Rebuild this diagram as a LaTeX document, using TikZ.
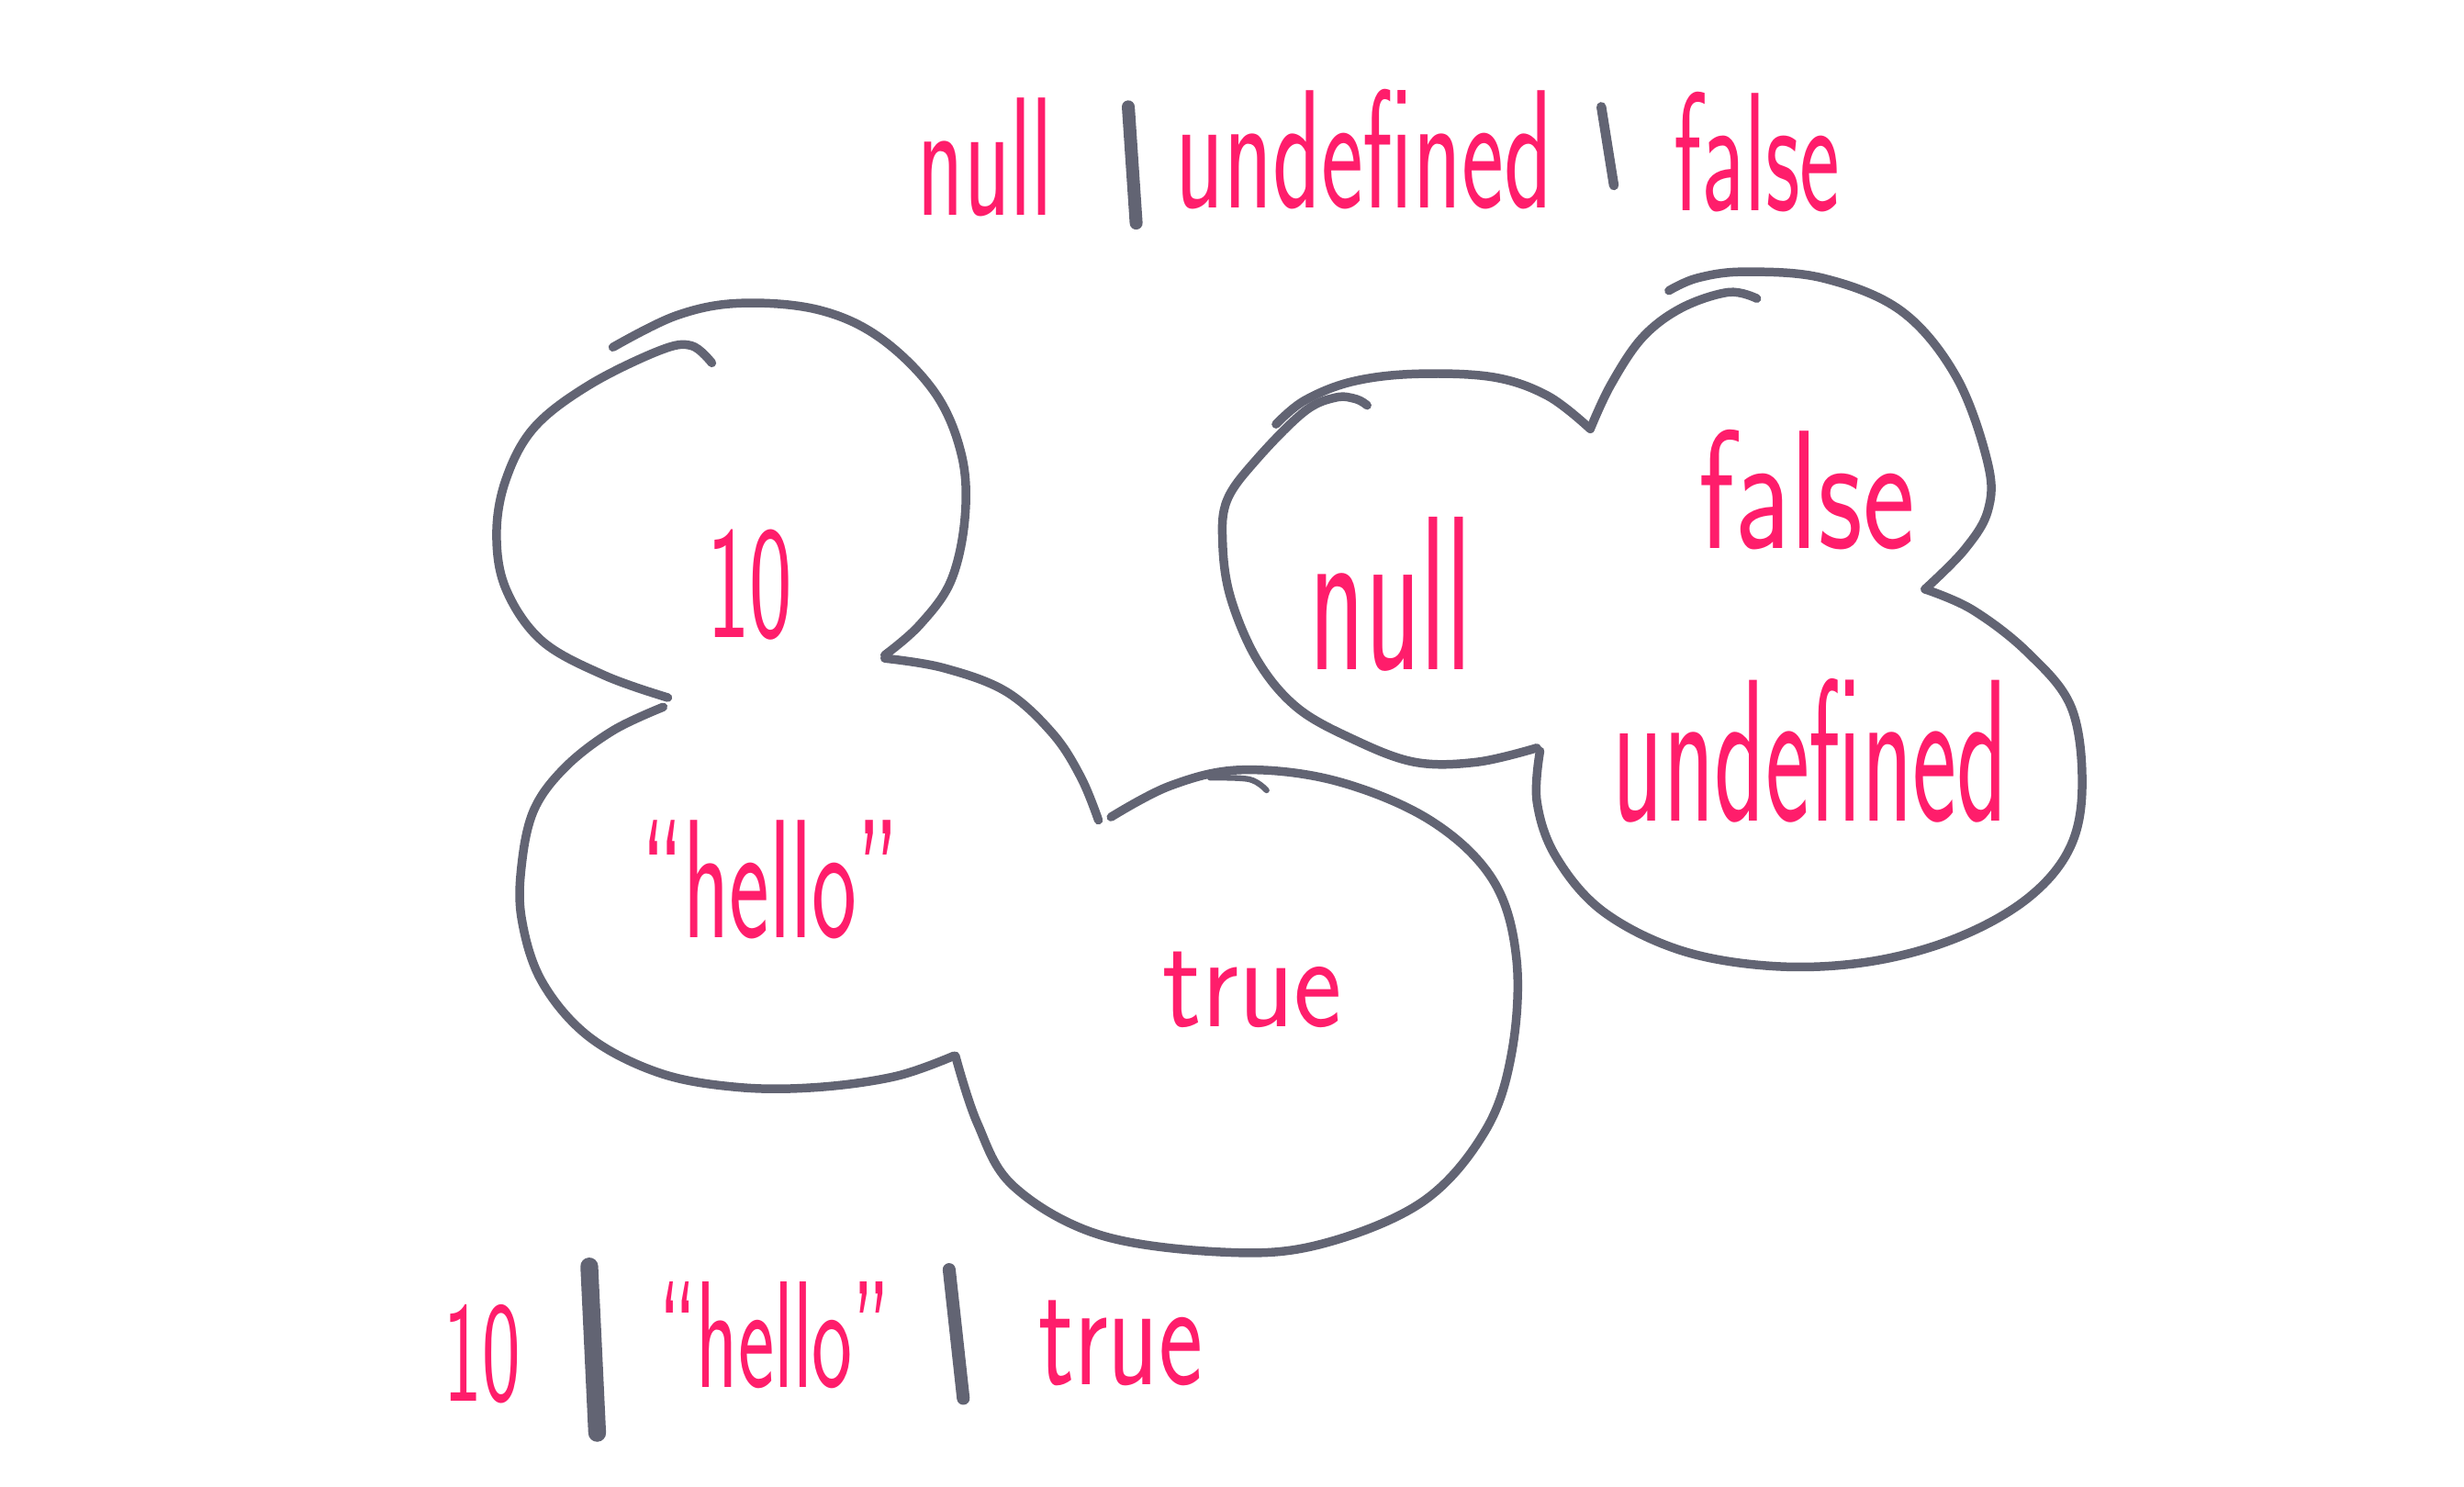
\documentclass[tikz,border=0pt]{standalone}
\usepackage{amsmath, amsfonts, tikz}
\definecolor{pinkA}{RGB}{255, 29, 107}
\definecolor{greyA}{RGB}{98, 100, 115}
\tikzset{
  cloud/.style={draw=greyA, line width=2.7pt, line cap=round, line join=round},
  hook/.style={draw=greyA, line width=1.8pt, line cap=round},
  bar/.style={draw=greyA, line width=4pt, line cap=round},
  word/.style={text=pinkA, inner sep=0pt, font=\sffamily\fontsize{40}{40}\selectfont, xscale=0.74, yscale=1.31}
}

\begin{document}
\begin{tikzpicture}[x=0.017117cm, y=-0.017117cm]
  \useasboundingbox (0,0) rectangle (1568,946);

  % top line
  \node[word] (tnull) at (627,100) {null};
  \node[word, xscale=1.05] (tundef) at (868,95) {undefined};
  \node[word] (tfalse) at (1118,97) {false};
  \path[bar] (718,68) -- (723,142);
  \path[bar, line width=3pt] (1019,68) -- (1027,118);

  % left cloud
  \path[cloud] plot[smooth, tension=0.6] coordinates {(390,221) (430,201) (470,193) (520,197) (560,215) (595,250) (612,290) (614,330) (605,370) (585,398) (563,417)};
  \path[cloud] plot[smooth, tension=0.6] coordinates {(563,419) (600,425) (640,440) (670,467) (688,495) (699,522)};
  \path[cloud] plot[smooth, tension=0.6] coordinates {(707,520) (745,500) (790,490) (850,497) (910,522) (950,560) (965,610) (962,670) (945,720) (905,765) (840,792) (780,797) (700,786) (645,755) (622,715) (608,672)};
  \path[hook] plot[smooth, tension=0.6] coordinates {(770,495) (795,496) (806,503)};
  \path[cloud] plot[smooth, tension=0.6] coordinates {(607,672) (570,685) (520,692) (470,692) (420,683) (375,660) (345,625) (332,585) (332,550) (340,515) (360,488) (390,465) (422,450)};
  \path[cloud] plot[smooth, tension=0.6] coordinates {(425,444) (385,430) (345,408) (322,375) (316,340) (322,305) (340,272) (375,245) (420,223) (440,220) (453,231)};

  \node[word, scale=0.95] (ten) at (477,372) {10};
  \node[word] (hello) at (490,560) {“hello”};
  \node[word, xscale=1.2, yscale=0.8] (true) at (797,630) {true};

  % right cloud
  \path[cloud] plot[smooth, tension=0.6] coordinates {(812,270) (830,255) (860,243) (900,238) (950,240) (985,252) (1012,273)};
  \path[cloud] plot[smooth, tension=0.6] coordinates {(1012,273) (1025,245) (1045,215) (1070,196) (1100,186) (1118,190)};
  \path[cloud] plot[smooth, tension=0.6] coordinates {(1062,185) (1080,177) (1110,173) (1160,177) (1210,198) (1245,240) (1265,295) (1265,325) (1250,350) (1225,375)};
  \path[cloud] plot[smooth, tension=0.6] coordinates {(1225,375) (1255,388) (1290,415) (1318,450) (1325,500) (1317,540) (1290,572) (1245,597) (1190,612) (1130,615) (1070,605) (1020,580) (990,545) (978,510) (980,478)};
  \path[cloud] plot[smooth, tension=0.6] coordinates {(978,476) (940,485) (900,485) (860,470) (825,450) (800,420) (783,380) (778,345) (781,318) (800,292) (830,262) (850,253) (863,254) (870,258)};

  \node[word, xscale=1.2, yscale=1.3] (null) at (885,378) {null};
  \node[word, xscale=1.3] (false) at (1150,312) {false};
  \node[word, xscale=1.1, yscale=1.2] (undef) at (1152,478) {undefined};

  % bottom line
  \node[word, scale=0.85] (bten) at (307,862) {10};
  \node[word, scale=0.9] (bhello) at (493,850) {“hello”};
  \node[word, xscale=1.1, yscale=0.9] (btrue) at (713,855) {true};
  \path[bar, line width=5.5pt] (375,806) -- (380,912);
  \path[bar] (604,808) -- (613,890);
\end{tikzpicture}
\end{document}
